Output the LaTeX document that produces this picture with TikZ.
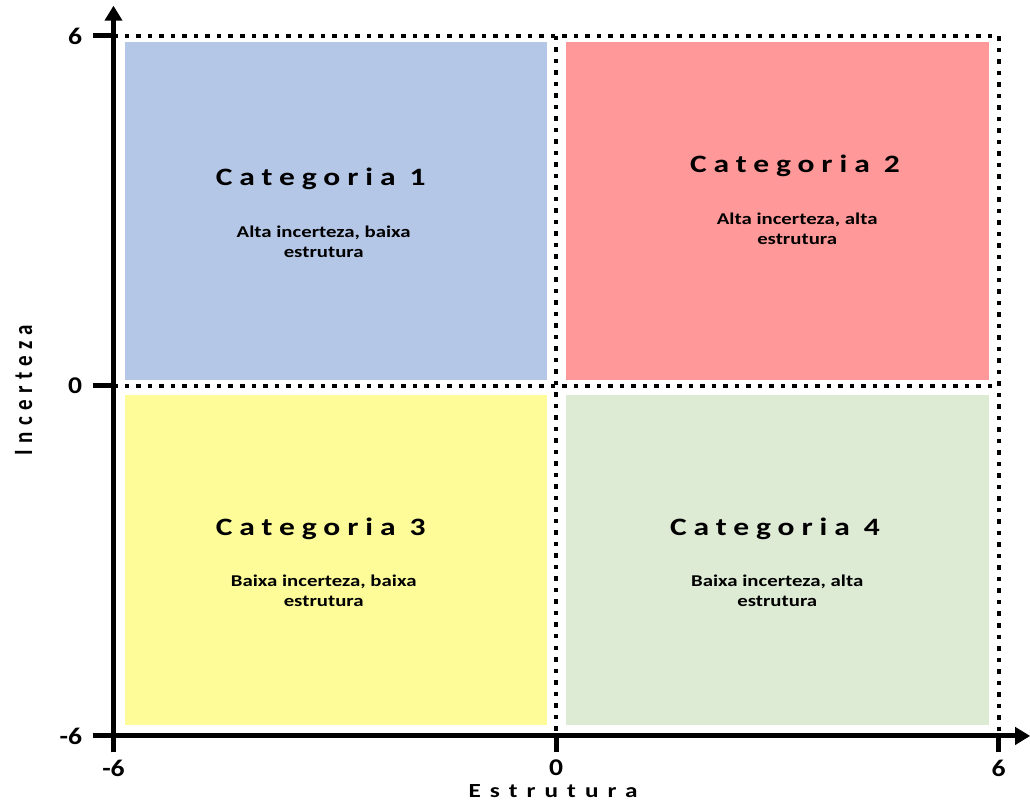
\documentclass[tikz,border=0pt]{standalone}
\usepackage{fontspec}
\setmainfont{Carlito}
\newfontfamily\widefont[LetterSpace=22]{Carlito}
\newfontfamily\axisfont[LetterSpace=36]{Carlito}
\newfontfamily\yaxisfont[LetterSpace=30]{Carlito}
\usetikzlibrary{arrows.meta}
\definecolor{catblue}{HTML}{B4C7E7}
\definecolor{catred}{HTML}{FF9999}
\definecolor{catyellow}{HTML}{FDFC98}
\definecolor{catgreen}{HTML}{DDEAD4}
\tikzset{
  quad/.style={fill=#1,draw=none},
  axis/.style={line width=5pt,-{Triangle[length=15pt,width=17pt]}},
  tick/.style={line width=5pt},
  grid/.style={line width=4pt,dash pattern=on 4.5pt off 7pt},
  cattitle/.style={xscale=1.26,font=\widefont\bfseries\fontsize{25}{30}\selectfont},
  catsub/.style={xscale=1.26,font=\bfseries\fontsize{16.5}{20}\selectfont,align=center},
  ticklabel/.style={xscale=1.15,font=\bfseries\fontsize{24}{30}\selectfont}
}
\begin{document}
\begin{tikzpicture}[x=73.75pt,y=58.33pt]
\useasboundingbox (-7.539,-7.149) rectangle (6.427,6.617);
% quadrants
\fill[quad=catblue] (-5.84,0.10) rectangle (-0.12,5.90);
\fill[quad=catred] (0.136,0.10) rectangle (5.87,5.90);
\fill[quad=catyellow] (-5.84,-5.81) rectangle (-0.12,-0.15);
\fill[quad=catgreen] (0.136,-5.81) rectangle (5.87,-0.15);
% dotted grid
\draw[grid] (-6,6) -- (6,6) -- (6,-6);
\draw[grid] (-6,0) -- (6,0);
\draw[grid] (0,6) -- (0,-6);
% axes
\coordinate (o) at (-6,-6);
\coordinate (xend) at (6.43,-6);
\coordinate (yend) at (-6,6.52);
\draw[axis] (-6.28,-6) -- (xend);
\draw[axis] (-6,-6.28) -- (yend);
\foreach \v in {-6,0,6} {
  \draw[tick] (-6.28,\v) -- (-6,\v);
  \draw[tick] (\v,-6.28) -- (\v,-6);
}
\node[ticklabel,anchor=east] (l6) at (-6.37,6) {6};
\node[ticklabel,anchor=east] (l0) at (-6.37,0) {0};
\node[ticklabel,anchor=east] (lm6) at (-6.37,-6) {-6};
\node[ticklabel] (bm6) at (-6,-6.55) {-6};
\node[ticklabel] (b0) at (0,-6.55) {0};
\node[ticklabel] (b6) at (6,-6.55) {6};
\node[xscale=1.26,font=\axisfont\bfseries\fontsize{20}{24}\selectfont] (xlabel) at (-0.04,-6.95) {Estrutura};
\node[font=\yaxisfont\bfseries\fontsize{21}{24}\selectfont,rotate=90,yscale=1.26] (ylabel) at (-7.22,-0.07) {Incerteza};
% categories
\node[cattitle] (c1) at (-3.19,3.55) {Categoria 1};
\node[catsub] (s1) at (-3.15,2.47) {Alta incerteza, baixa\\estrutura};
\node[cattitle] (c2) at (3.24,3.77) {Categoria 2};
\node[catsub] (s2) at (3.27,2.69) {Alta incerteza, alta\\estrutura};
\node[cattitle] (c3) at (-3.19,-2.45) {Categoria 3};
\node[catsub] (s3) at (-3.15,-3.51) {Baixa incerteza, baixa\\estrutura};
\node[cattitle] (c4) at (2.97,-2.45) {Categoria 4};
\node[catsub] (s4) at (3.0,-3.51) {Baixa incerteza, alta\\estrutura};
\end{tikzpicture}
\end{document}
